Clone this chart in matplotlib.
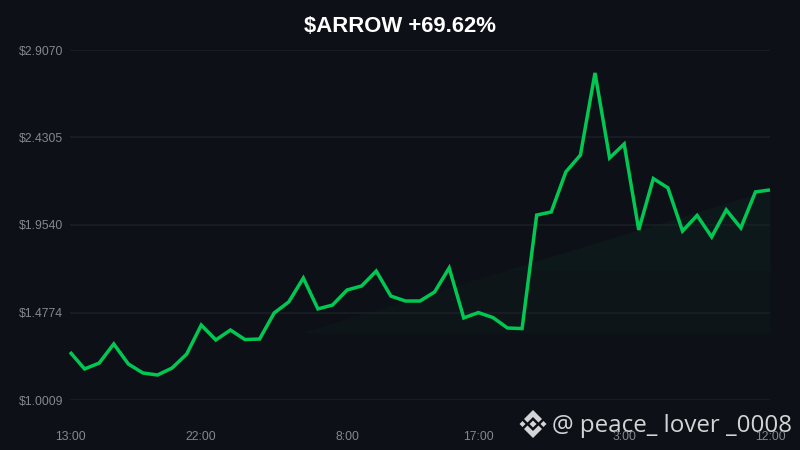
import matplotlib.pyplot as plt
from matplotlib.patches import Polygon

plt.rcParams["font.family"] = ["Liberation Sans", "DejaVu Sans"]

title = "$ARROW +69.62%"
watermark = "@ peace_ lover _0008"

prices = [
    1.262, 1.170, 1.202, 1.306, 1.197, 1.148, 1.137, 1.175, 1.251, 1.409,
    1.328, 1.382, 1.330, 1.333, 1.475, 1.535, 1.665, 1.497, 1.518, 1.600,
    1.622, 1.703, 1.567, 1.540, 1.540, 1.589, 1.720, 1.448, 1.477, 1.450,
    1.393, 1.390, 2.008, 2.025, 2.243, 2.335, 2.782, 2.319, 2.395, 1.927,
    2.207, 2.156, 1.921, 2.006, 1.889, 2.036, 1.938, 2.134, 2.145,
]
y_ticks = [1.0009, 1.4774, 1.9540, 2.4305, 2.9070]
x_ticks = [0, 9, 19, 28, 38, 48]
x_labels = ["13:00", "22:00", "8:00", "17:00", "3:00", "12:00"]

# faint wedge under the right side of the line
wedge_x = [15.8, 48]
wedge_top = [1.366, 2.145]
wedge_base = 1.366
band_edge = 1.709

bg = "#0d1117"
green = "#00c853"
x = list(range(len(prices)))

fig = plt.figure(figsize=(8, 4.5), dpi=100, facecolor=bg)

# watermark layer in pixel coordinates, sits under the chart labels
over = fig.add_axes([0, 0, 1, 1], facecolor="none", zorder=0)
over.set_xlim(0, 800)
over.set_ylim(450, 0)
over.axis("off")
over.text(552, 426, watermark, color="#d2d4d6", fontsize=17.35, family="Open Sans",
          ha="left", va="center")

cx, cy = 533, 424
logo = [
    [(0, -14), (9, -5), (5.5, -1.5), (0, -7), (-5.5, -1.5), (-9, -5)],
    [(0, 14), (9, 5), (5.5, 1.5), (0, 7), (-5.5, 1.5), (-9, 5)],
    [(0, -3.5), (3.5, 0), (0, 3.5), (-3.5, 0)],
    [(-10.5, -3), (-7.5, 0), (-10.5, 3), (-13.5, 0)],
    [(10.5, -3), (13.5, 0), (10.5, 3), (7.5, 0)],
]
for shape in logo:
    over.add_patch(Polygon([(cx + a, cy + b) for a, b in shape], closed=True,
                           facecolor="#d2d4d6", edgecolor="none"))

ax = fig.add_axes([70 / 800, 50 / 450, 700 / 800, 350 / 450], facecolor="none", zorder=1)

ax.fill_between(wedge_x, wedge_base, wedge_top, color="#0d1519", lw=0, zorder=1)
slope = (wedge_top[1] - wedge_top[0]) / (wedge_x[1] - wedge_x[0])
band_start = wedge_x[0] + (band_edge - wedge_top[0]) / slope
ax.fill_between([band_start, wedge_x[1]], band_edge, [band_edge, wedge_top[1]],
                color="#0d181a", lw=0, zorder=1)

ax.plot(x, prices, color=green, lw=2.5, solid_joinstyle="miter", solid_capstyle="butt",
        zorder=3, clip_on=False)

ax.set_xlim(0, 48)
ax.set_ylim(y_ticks[0], y_ticks[-1])
ax.set_yticks(y_ticks)
ax.set_yticklabels(["$%.4f" % v for v in y_ticks])
ax.set_xticks(x_ticks)
ax.set_xticklabels(x_labels)
ax.tick_params(length=0, labelsize=8.8, labelcolor="#84888e")
ax.tick_params(axis="y", pad=5)
ax.tick_params(axis="x", pad=22)
ax.grid(axis="y", color="#1b2027", lw=1.1, zorder=2)
ax.grid(axis="x", visible=False)
ax.set_axisbelow(False)
for spine in ax.spines.values():
    spine.set_visible(False)

fig.text(0.5, 1 - 26 / 450, title, color="white", fontsize=15.9, fontweight="bold",
         ha="center", va="center")

fig.savefig("out.png", dpi=100, facecolor=bg)
